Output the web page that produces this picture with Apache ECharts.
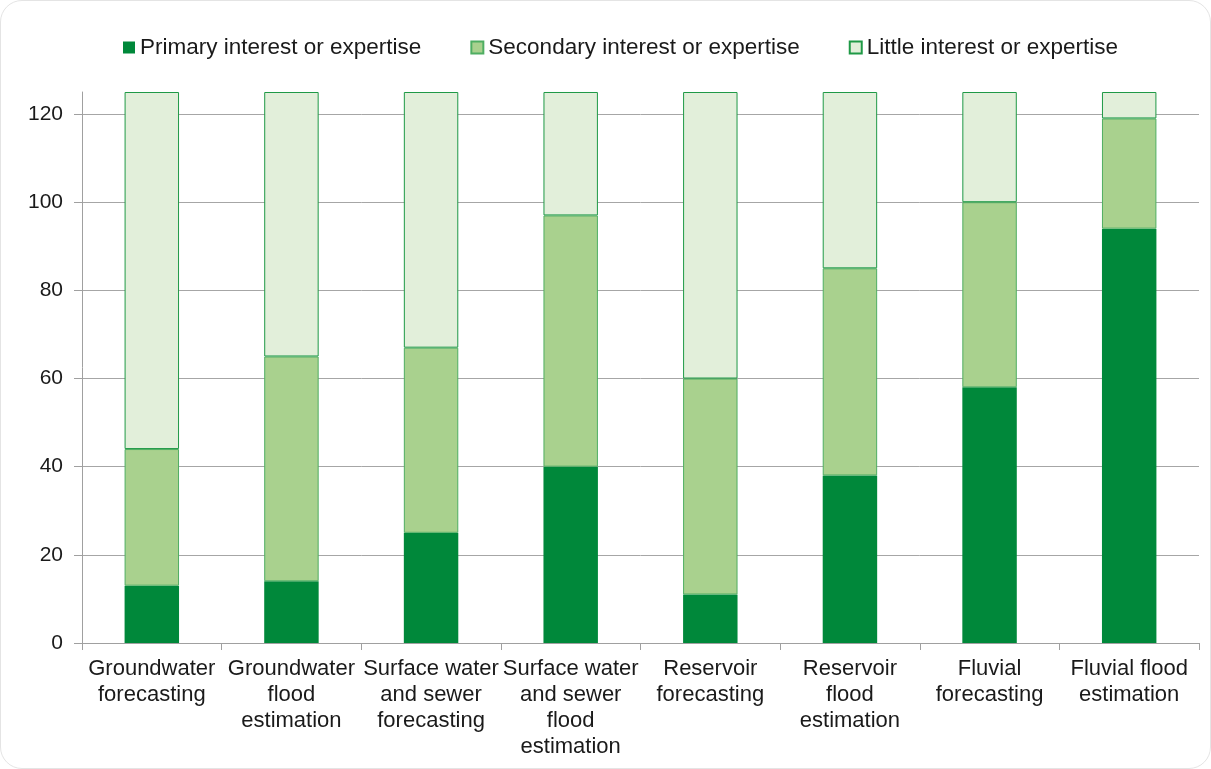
<!DOCTYPE html>
<html>
<head>
<meta charset="utf-8">
<script src="https://cdn.jsdelivr.net/npm/echarts@6/dist/echarts.min.js"></script>
<style>
  html, body { margin: 0; padding: 0; background: #fff; }
  #chart { width: 1209px; height: 767px; border: 1px solid #e4e4e4; border-radius: 22px; }
</style>
</head>
<body>
<div id="chart"></div>
<script>
// categories (pre-wrapped like the original)
var categories = [
    'Groundwater\nforecasting',
    'Groundwater\nflood\nestimation',
    'Surface water\nand sewer\nforecasting',
    'Surface water\nand sewer\nflood\nestimation',
    'Reservoir\nforecasting',
    'Reservoir\nflood\nestimation',
    'Fluvial\nforecasting',
    'Fluvial flood\nestimation'
];
var seriesNames = ['Primary interest or expertise', 'Secondary interest or expertise', 'Little interest or expertise'];
var primary   = [13, 14, 25, 40, 11, 38, 58, 94];
var secondary = [31, 51, 42, 57, 49, 47, 42, 25];
var little    = [81, 60, 58, 28, 65, 40, 25, 6];
var yTicks = { min: 0, max: 125, interval: 20 };

var font = 'Liberation Sans, Arial, sans-serif';

var myChart = echarts.init(document.getElementById('chart'));

var option = {
    animation: false,
    textStyle: { fontFamily: font },
    legend: {
        top: 30,
        left: 117,
        icon: 'rect',
        itemWidth: 12,
        itemHeight: 12,
        itemGap: 49,
        textStyle: { fontSize: 22.5, color: '#1a1a1a', fontFamily: font },
        data: seriesNames
    },
    grid: { left: 81, right: 11, top: 91, bottom: 125, containLabel: false },
    xAxis: {
        type: 'category',
        data: categories,
        axisLine: { lineStyle: { color: '#a0a0a0', width: 1 } },
        axisTick: { show: true, length: 7, lineStyle: { color: '#a0a0a0' } },
        axisLabel: {
            interval: 0,
            margin: 13,
            fontSize: 22,
            lineHeight: 26,
            color: '#1a1a1a',
            fontFamily: font
        }
    },
    yAxis: {
        type: 'value',
        min: yTicks.min,
        max: yTicks.max,
        interval: yTicks.interval,
        axisLine: { show: true, lineStyle: { color: '#a0a0a0', width: 1 } },
        axisTick: { show: true, length: 8, lineStyle: { color: '#a0a0a0' } },
        axisLabel: { fontSize: 21, color: '#1a1a1a', margin: 19, showMaxLabel: false, fontFamily: font },
        splitLine: { show: true, showMaxLine: false, lineStyle: { color: '#a6a6a6', width: 1 } }
    },
    series: [
        {
            name: seriesNames[0],
            type: 'bar',
            stack: 'total',
            barWidth: '39%',
            data: primary,
            itemStyle: { color: '#00883a' }
        },
        {
            name: seriesNames[1],
            type: 'bar',
            stack: 'total',
            data: secondary,
            itemStyle: { color: '#a9d18e', borderColor: '#4fae62', borderWidth: 1 }
        },
        {
            name: seriesNames[2],
            type: 'bar',
            stack: 'total',
            data: little,
            itemStyle: { color: '#e2efda', borderColor: '#1f9946', borderWidth: 1 }
        }
    ]
};

myChart.setOption(option);
</script>
</body>
</html>
